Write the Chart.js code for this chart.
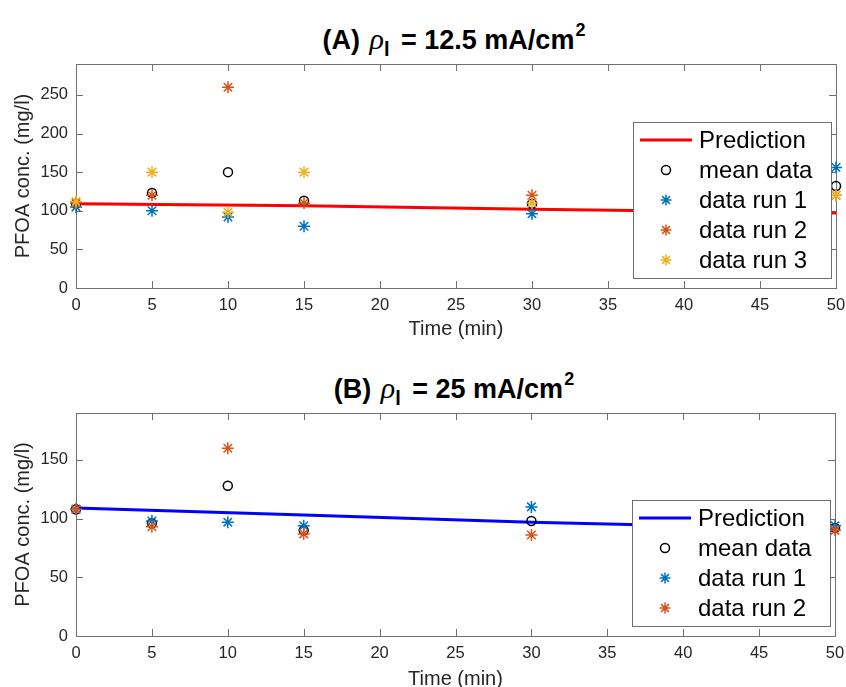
<!DOCTYPE html>
<html>
<head>
<meta charset="utf-8">
<title>PFOA concentration</title>
<script src="https://cdn.jsdelivr.net/npm/chart.js@4.4.0/dist/chart.umd.min.js"></script>
<style>
  html, body { margin: 0; padding: 0; background: #fff; }
  #wrap { position: relative; width: 846px; height: 687px; overflow: hidden; }
  canvas { position: absolute; left: 0; }
  .title {
    position: absolute; left: 154px; width: 600px; text-align: center;
    font: bold 27px "Liberation Sans", Arial, sans-serif; line-height: 34px;
    color: #000; white-space: nowrap;
  }
  .rho { font-family: "Liberation Serif", serif; font-style: italic; font-weight: normal; font-size: 30px; margin-left: 2px; }
  .sub { position: relative; top: 7px; font-size: 20px; margin-right: 4px; }
  .sup { position: relative; top: -13px; font-size: 18px; margin-left: 1px; }
</style>
</head>
<body>
<div id="wrap">
  <div class="title" style="top:22px">(A) <span class="rho">ρ</span><span class="sub">l</span> = 12.5 mA/cm<span class="sup">2</span></div>
  <canvas id="chartA" width="846" height="345" style="top:0"></canvas>
  <div class="title" style="top:371px">(B) <span class="rho">ρ</span><span class="sub">l</span> = 25 mA/cm<span class="sup">2</span></div>
  <canvas id="chartB" width="846" height="342" style="top:345px"></canvas>
</div>
<script>
// ============================================================================
// Data
// ============================================================================

const timeTicks = [0, 5, 10, 15, 20, 25, 30, 35, 40, 45, 50];
const yTicksA = [0, 50, 100, 150, 200, 250];
const yTicksB = [0, 50, 100, 150];

// sampling times (min)
const sampleTimes = [0, 5, 10, 15, 30, 50];

// (A) 12.5 mA/cm2
const meanA = [109, 123, 150, 113, 109, 132];
const run1A = [105, 100, 92, 80, 96, 156];
const run2A = [110, 120, 260, 110, 120, 120];
const run3A = [112, 150, 98, 150, 110, 120];

// (B) 25 mA/cm2
const meanB = [108, 96, 128, 90, 98, 92];
const run1B = [108, 98, 97, 94, 110, 94];
const run2B = [108, 93, 160, 87, 86, 90];

// model prediction
const predTimes = [0, 15, 30, 50];
const predA = [109, 106.5, 102, 97];
const predB = [109, 103, 97, 91];

// ============================================================================
// Styling
// ============================================================================

const FONT = '"Liberation Sans", Arial, Helvetica, sans-serif';
const AXIS_COLOR = '#6f6f6f';
const TEXT_COLOR = '#262626';
const TICK_LEN = 7;

const C_RUN1 = '#0072BD';
const C_RUN2 = '#D95319';
const C_RUN3 = '#EDB120';

// ============================================================================
// Plugins
// ============================================================================

/**
 * MATLAB-style box with inward ticks on all four sides
 */
const matlabBox = {
  id: 'matlabBox',
  beforeDatasetsDraw(chart) {
    const { ctx, chartArea: a, scales: { x, y } } = chart;
    ctx.save();
    ctx.strokeStyle = AXIS_COLOR;
    ctx.lineWidth = 1;
    ctx.strokeRect(Math.round(a.left) + 0.5, Math.round(a.top) + 0.5,
      Math.round(a.width), Math.round(a.height));
    ctx.beginPath();
    x.ticks.forEach(t => {
      const px = Math.round(x.getPixelForValue(t.value)) + 0.5;
      ctx.moveTo(px, a.bottom); ctx.lineTo(px, a.bottom - TICK_LEN);
      ctx.moveTo(px, a.top); ctx.lineTo(px, a.top + TICK_LEN);
    });
    y.ticks.forEach(t => {
      const py = Math.round(y.getPixelForValue(t.value)) + 0.5;
      ctx.moveTo(a.left, py); ctx.lineTo(a.left + TICK_LEN, py);
      ctx.moveTo(a.right, py); ctx.lineTo(a.right - TICK_LEN, py);
    });
    ctx.stroke();
    ctx.restore();
  }
};

/**
 * Legend box inside the lower right corner of the axes
 */
const insetLegend = {
  id: 'insetLegend',
  afterDatasetsDraw(chart) {
    const { ctx, chartArea: a } = chart;
    const sets = chart.data.datasets;
    const w = 198, rowH = 30, pad = 18;
    const h = pad * 2 + rowH * (sets.length - 1);
    const left = a.right - 5 - w;
    const top = a.bottom - 10 - h;

    ctx.save();
    ctx.fillStyle = '#fff';
    ctx.fillRect(left, top, w, h);
    ctx.strokeStyle = AXIS_COLOR;
    ctx.lineWidth = 1;
    ctx.strokeRect(Math.round(left) + 0.5, Math.round(top) + 0.5, w, h);

    sets.forEach((ds, i) => {
      const cy = top + pad + i * rowH;
      if (ds.showLine) {
        ctx.strokeStyle = ds.borderColor;
        ctx.lineWidth = ds.borderWidth;
        ctx.beginPath();
        ctx.moveTo(left + 7, cy);
        ctx.lineTo(left + 59, cy);
        ctx.stroke();
      } else {
        ctx.strokeStyle = ds.pointBorderColor;
        ctx.fillStyle = 'rgba(0,0,0,0)';
        ctx.lineWidth = ds.pointBorderWidth;
        Chart.helpers.drawPoint(ctx, {
          pointStyle: ds.pointStyle,
          radius: ds.pointStyle === 'circle' ? 4.5 : 5.5,
          rotation: 0,
          borderWidth: ds.pointBorderWidth
        }, left + 33, cy);
      }
      ctx.fillStyle = '#000';
      ctx.font = '24px ' + FONT;
      ctx.textBaseline = 'middle';
      ctx.textAlign = 'left';
      ctx.fillText(ds.label, left + 66, cy + 1);
    });
    ctx.restore();
  }
};

// ============================================================================
// Chart builders
// ============================================================================

function points(xs, ys) {
  return xs.map((t, i) => ({ x: t, y: ys[i] }));
}

function predictionSet(ys, color) {
  return {
    label: 'Prediction',
    data: points(predTimes, ys),
    showLine: true,
    borderColor: color,
    borderWidth: 3,
    pointRadius: 0,
    tension: 0,
    order: 10
  };
}

function markerSet(label, ys, color, style, order) {
  return {
    label: label,
    data: points(sampleTimes, ys),
    pointStyle: style,
    pointRadius: style === 'circle' ? 4.5 : 6,
    pointBorderWidth: 1.5,
    pointBorderColor: color,
    pointBackgroundColor: 'rgba(0,0,0,0)',
    borderColor: color,
    backgroundColor: 'rgba(0,0,0,0)',
    clip: false,
    order: order
  };
}

function buildChart(canvasId, datasets, yTicks, yMax, padTop, padRight, xAxisH, xTitlePad) {
  const ctx = document.getElementById(canvasId).getContext('2d');
  return new Chart(ctx, {
    type: 'scatter',
    data: { datasets: datasets },
    options: {
      responsive: false,
      animation: false,
      events: [],
      layout: { padding: { top: padTop, right: padRight, left: 0, bottom: 0 } },
      plugins: {
        legend: { display: false },
        tooltip: { enabled: false },
        title: { display: false }
      },
      scales: {
        x: {
          type: 'linear',
          min: 0,
          max: 50,
          afterBuildTicks: s => { s.ticks = timeTicks.map(v => ({ value: v })); },
          afterFit: s => {
            s.height = xAxisH;
            s.paddingLeft = 0;
            s.paddingRight = 0;
          },
          grid: { display: false, drawTicks: false },
          border: { display: false },
          ticks: {
            padding: 8,
            color: TEXT_COLOR,
            font: { family: FONT, size: 16.5 },
            maxRotation: 0,
            autoSkip: false
          },
          title: {
            display: true,
            text: 'Time (min)',
            color: TEXT_COLOR,
            font: { family: FONT, size: 20 },
            padding: { top: 0, bottom: xTitlePad }
          }
        },
        y: {
          type: 'linear',
          min: 0,
          max: yMax,
          afterBuildTicks: s => { s.ticks = yTicks.map(v => ({ value: v })); },
          afterFit: s => {
            s.width = 76;
            s.paddingTop = 0;
            s.paddingBottom = 0;
          },
          grid: { display: false, drawTicks: false },
          border: { display: false },
          ticks: {
            padding: 8,
            color: TEXT_COLOR,
            font: { family: FONT, size: 16.5 }
          },
          title: {
            display: true,
            text: 'PFOA conc. (mg/l)',
            color: TEXT_COLOR,
            font: { family: FONT, size: 20 },
            padding: { top: 11, bottom: 0 }
          }
        }
      }
    },
    plugins: [matlabBox, insetLegend]
  });
}

// ============================================================================
// Startup
// ============================================================================

buildChart('chartA', [
  predictionSet(predA, '#ff0000'),
  markerSet('mean data', meanA, '#000000', 'circle', 4),
  markerSet('data run 1', run1A, C_RUN1, 'star', 3),
  markerSet('data run 2', run2A, C_RUN2, 'star', 2),
  markerSet('data run 3', run3A, C_RUN3, 'star', 1)
], yTicksA, 290, 64, 10, 57, 4);

buildChart('chartB', [
  predictionSet(predB, '#0000ff'),
  markerSet('mean data', meanB, '#000000', 'circle', 4),
  markerSet('data run 1', run1B, C_RUN1, 'star', 3),
  markerSet('data run 2', run2B, C_RUN2, 'star', 2)
], yTicksB, 190, 68, 11, 51, -4);
</script>
</body>
</html>
